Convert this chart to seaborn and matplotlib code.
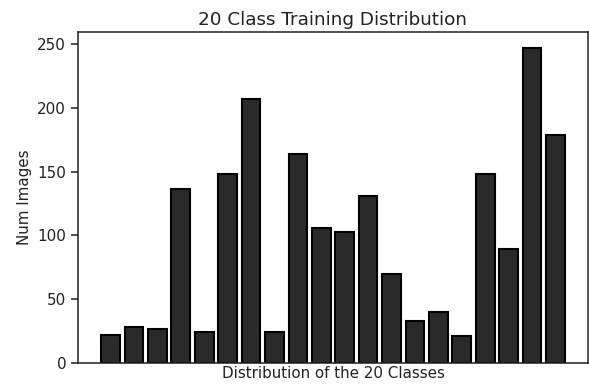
import pandas as pd
import seaborn as sns
import matplotlib.pyplot as plt

class_ids = list(range(20))
num_images = [22, 28, 27, 136, 24, 148, 207, 24, 164, 106,
              103, 131, 70, 33, 40, 21, 148, 89, 247, 179]

df = pd.DataFrame({"cls": class_ids, "count": num_images})

plt.rcParams['font.family'] = ['DejaVu Sans']
fig = plt.figure(figsize=(5.89, 3.87), dpi=100)
ax = fig.add_axes([78 / 589, 24 / 387, 510 / 589, 331 / 387])

sns.barplot(
    data=df, x="cls", y="count", ax=ax,
    color="#2a2a2a", saturation=1, width=0.8,
    edgecolor="black", linewidth=1.5,
)

# matplotlib-like default margins around the bars
n = len(class_ids)
pad = 0.05 * (n - 1 + 0.8)
ax.set_xlim(-0.4 - pad, n - 1 + 0.4 + pad)
ax.set_ylim(0, max(num_images) * 1.05)
ax.set_yticks([0, 50, 100, 150, 200, 250])

ax.set_xticks([])
ax.set_title("20 Class Training Distribution", fontsize=13.2, pad=5, color="#222222")
ax.set_xlabel("Distribution of the 20 Classes", fontsize=10.9, labelpad=2, color="#222222")
ax.set_ylabel("Num Images", fontsize=10.9, color="#222222")
ax.tick_params(axis="y", labelsize=10.9, length=5, width=1.1, colors="#222222")
for s in ax.spines.values():
    s.set_linewidth(1.1)
    s.set_color("#222222")

fig.set_facecolor("white")
fig.savefig("out.png", dpi=100)
